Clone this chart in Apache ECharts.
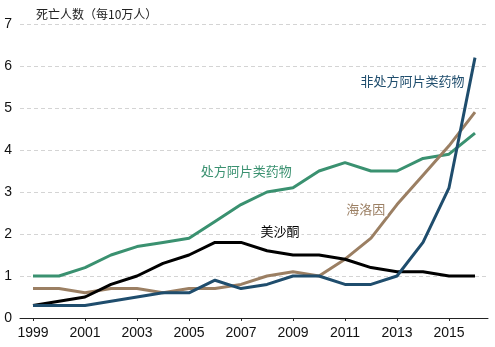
<!DOCTYPE html>
<html>
<head>
<meta charset="utf-8">
<script src="https://cdn.jsdelivr.net/npm/echarts@6/dist/echarts.min.js"></script>
<style>html,body{margin:0;padding:0;background:#fff;}#c{width:495px;height:347px;}</style>
</head>
<body>
<div id="c"></div>
<script>
var years = [1999,2000,2001,2002,2003,2004,2005,2006,2007,2008,2009,2010,2011,2012,2013,2014,2015,2016];
var tickYears = [1999,2001,2003,2005,2007,2009,2011,2013,2015];
var prescription = [1.0,1.0,1.2,1.5,1.7,1.8,1.9,2.3,2.7,3.0,3.1,3.5,3.7,3.5,3.5,3.8,3.9,4.4];
var heroin = [0.7,0.7,0.6,0.7,0.7,0.6,0.7,0.7,0.8,1.0,1.1,1.0,1.4,1.9,2.7,3.4,4.1,4.9];
var methadone = [0.3,0.4,0.5,0.8,1.0,1.3,1.5,1.8,1.8,1.6,1.5,1.5,1.4,1.2,1.1,1.1,1.0,1.0];
var nonPrescription = [0.3,0.3,0.3,0.4,0.5,0.6,0.6,0.9,0.7,0.8,1.0,1.0,0.8,0.8,1.0,1.8,3.1,6.2];
var names = ['处方阿片类药物','海洛因','美沙酮','非处方阿片类药物'];
var colors = ['#3a9170','#9b7f63','#000000','#1f4d6d'];
// label anchor positions in data space [year, value]
var labelAnchors = [[2007.2,3.5],[2011.8,2.6],[2008.5,2.06],[2013.6,5.63]];

function pairs(arr){ return years.map(function(y,i){ return [y, arr[i]]; }); }
var seriesData = [prescription, heroin, methadone, nonPrescription];
var font = '"Liberation Sans Narrow","Liberation Sans",Arial,sans-serif';
var cjk = '"Noto Sans CJK SC","Liberation Sans",sans-serif';

var chart = echarts.init(document.getElementById('c'));
chart.setOption({
  animation: false,
  backgroundColor: '#fff',
  title: {
    text: '死亡人数（每10万人）', left: 31, top: 3,
    textStyle: {fontFamily: cjk, fontSize: 12, fontWeight: 'normal', color: '#222'}
  },
  grid: {left: 20, right: 7, top: 24, bottom: 29, containLabel: false},
  xAxis: {
    type: 'value', min: 1998.5, max: 2016.5,
    axisLine: {show: true, lineStyle: {color: '#222', width: 1}},
    axisTick: {show: true, customValues: tickYears, length: 3, lineStyle: {color: '#222'}},
    axisLabel: {customValues: tickYears, margin: 8, fontFamily: font, fontSize: 14, color: '#111',
      formatter: function(v){ return String(v); }},
    splitLine: {show: false}
  },
  yAxis: {
    type: 'value', min: 0, max: 7, interval: 1,
    axisLine: {show: false}, axisTick: {show: false},
    axisLabel: {margin: 8, fontFamily: font, fontSize: 14, color: '#111'},
    splitLine: {show: true, lineStyle: {color: '#d4d4d4', type: [4,3], width: 1}}
  },
  series: seriesData.map(function(arr, i){
    return {
      type: 'line', name: names[i], data: pairs(arr), symbol: 'none', smooth: false,
      lineStyle: {color: colors[i], width: 3}, z: 3,
      markPoint: {
        symbol: 'rect', symbolSize: 1, itemStyle: {color: 'rgba(0,0,0,0)'},
        label: {show: true, formatter: names[i], position: 'inside', color: colors[i],
          fontFamily: cjk, fontSize: 13, backgroundColor: '#fff', padding: [1,2]},
        data: [{coord: labelAnchors[i]}]
      }
    };
  })
});
</script>
</body>
</html>
